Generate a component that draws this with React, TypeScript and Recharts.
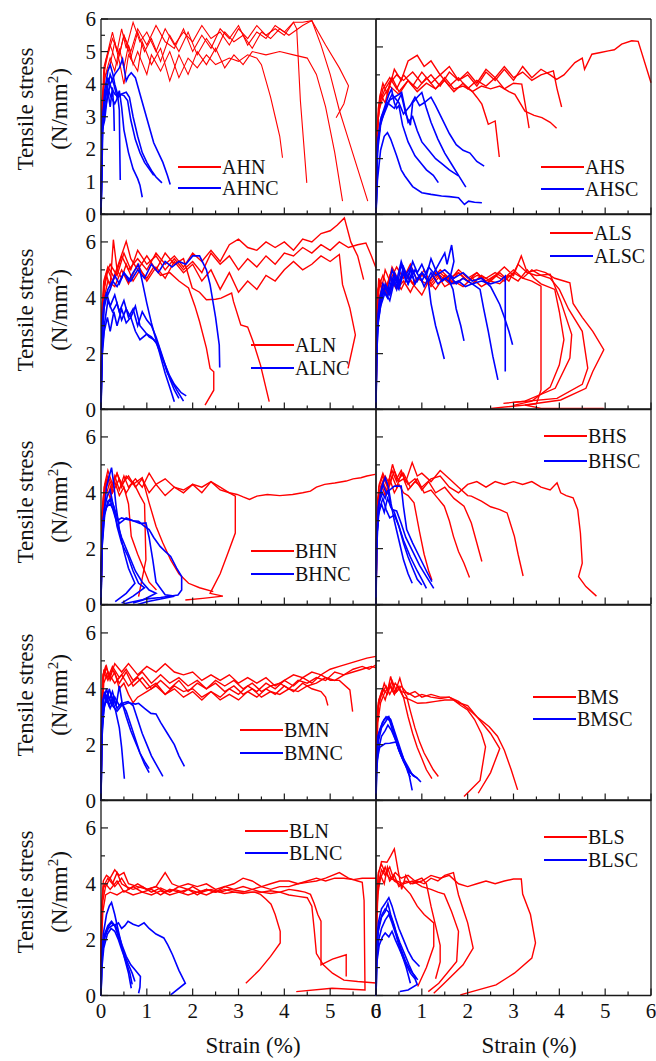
import React from 'react';
import { LineChart, Line, XAxis, YAxis } from 'recharts';

type P = [number, number];

// ---- row 1: AH ----
const AHN_1: P[] = [[0,0],[0.02,2.5],[0.05,3.8],[0.1,4.3],[0.2,4.8],[0.3,4.4],[0.4,5.1],[0.5,4.5],[0.6,5.2],[0.7,4.6],[0.8,5.0],[1.0,4.3],[1.1,4.9],[1.3,4.4],[1.5,5.0],[1.7,4.2],[1.9,4.8],[2.1,4.5],[2.3,4.9],[2.5,4.6],[2.8,4.8],[3.0,4.7],[3.2,4.9],[3.4,4.8],[3.5,4.6],[3.6,4.1],[3.7,3.6],[3.8,3.0],[3.9,2.4],[3.96,1.74]];
const AHN_2: P[] = [[0,0],[0.02,3],[0.06,4.5],[0.15,5.0],[0.25,5.6],[0.35,5.0],[0.45,5.7],[0.55,5.1],[0.7,5.9],[0.85,5.3],[1.0,5.6],[1.2,5.0],[1.4,5.7],[1.6,5.2],[1.8,5.6],[2.0,5.3],[2.2,5.8],[2.4,5.4],[2.6,5.6],[2.8,5.2],[3.0,5.7],[3.2,5.4],[3.4,5.8],[3.6,5.5],[3.8,5.7],[4.0,5.5],[4.2,5.9],[4.27,5.7],[4.35,3.5],[4.49,0.97]];
const AHN_3: P[] = [[0,0],[0.03,3.2],[0.08,4.2],[0.2,4.6],[0.3,5.3],[0.4,4.7],[0.5,4.0],[0.6,4.9],[0.8,4.4],[0.9,5.3],[1.1,4.6],[1.3,5.1],[1.5,4.1],[1.7,4.9],[1.9,4.3],[2.1,5.0],[2.3,4.6],[2.5,5.1],[2.7,4.5],[2.9,4.9],[3.1,4.6],[3.3,5.0],[3.6,4.9],[3.9,5.0],[4.2,4.9],[4.5,4.8],[4.7,4.3],[4.9,3.3],[5.1,1.9],[5.27,0.41]];
const AHN_4: P[] = [[0,0],[0.02,2.8],[0.07,4.4],[0.15,4.9],[0.25,5.4],[0.4,4.9],[0.5,5.5],[0.65,4.8],[0.8,5.6],[0.95,5.0],[1.1,5.4],[1.3,4.7],[1.5,5.5],[1.7,5.0],[1.9,5.6],[2.1,4.9],[2.3,5.4],[2.5,5.0],[2.7,5.6],[2.9,5.3],[3.1,5.5],[3.3,5.1],[3.5,5.6],[3.7,5.4],[3.9,5.7],[4.1,5.5],[4.4,5.8],[4.6,5.95],[4.8,5.2],[5.0,4.3],[5.2,3.2],[5.4,2.3],[5.6,1.4],[5.82,0.41]];
const AHN_5: P[] = [[0,0],[0.02,3.5],[0.1,4.7],[0.2,5.2],[0.35,4.6],[0.5,5.5],[0.65,5.0],[0.8,5.7],[1.0,5.2],[1.2,5.8],[1.4,5.3],[1.6,5.1],[1.8,5.7],[2.0,5.0],[2.2,5.5],[2.4,5.1],[2.6,5.7],[2.8,5.4],[3.0,5.8],[3.2,5.2],[3.4,5.6],[3.6,5.4],[3.8,5.8],[4.0,5.6],[4.2,5.9],[4.4,5.9],[4.6,5.95],[4.9,5.2],[5.2,4.5],[5.4,3.95],[5.3,3.4],[5.13,2.97]];
const AHNC_1: P[] = [[0,0],[0.03,2.7],[0.08,3.8],[0.15,4.4],[0.2,4.6],[0.26,4.3],[0.3,4.0],[0.36,3.7],[0.4,3.2],[0.41,2.0],[0.42,1.06]];
const AHNC_2: P[] = [[0,0],[0.03,2.5],[0.1,3.6],[0.2,4.3],[0.28,4.0],[0.35,3.6],[0.4,3.8],[0.45,3.3],[0.5,2.6],[0.6,1.9],[0.7,1.4],[0.8,1.1],[0.85,0.9],[0.9,0.53]];
const AHNC_3: P[] = [[0,0],[0.04,2.7],[0.1,3.3],[0.2,4.0],[0.3,4.3],[0.4,4.5],[0.47,4.77],[0.55,4.1],[0.6,4.25],[0.66,4.35],[0.75,4.2],[0.85,3.7],[0.95,3.2],[1.05,2.7],[1.15,2.2],[1.25,1.9],[1.35,1.6],[1.45,1.2],[1.51,0.92]];
const AHNC_4: P[] = [[0,0],[0.03,2.9],[0.08,3.6],[0.15,4.2],[0.22,3.9],[0.3,3.7],[0.38,3.6],[0.45,3.7],[0.55,3.75],[0.62,3.6],[0.7,3.0],[0.8,2.4],[0.9,1.9],[1.0,1.6],[1.1,1.35],[1.2,1.15],[1.33,0.97]];
const AHNC_5: P[] = [[0,0],[0.02,2.6],[0.07,3.4],[0.14,3.9],[0.22,3.6],[0.3,3.4],[0.4,3.7],[0.5,3.65],[0.58,3.5],[0.65,2.9],[0.75,2.3],[0.85,1.9],[0.95,1.6],[1.05,1.4],[1.15,1.2]];
const AHNC_6: P[] = [[0,0],[0.03,2.6],[0.08,2.9],[0.15,3.8],[0.2,3.3],[0.25,3.9],[0.28,3.2],[0.29,2.56]];

const AHS_1: P[] = [[0,0],[0.02,2.5],[0.05,3.8],[0.1,4.3],[0.2,4.0],[0.3,4.7],[0.45,5.0],[0.6,4.8],[0.8,5.1],[1.0,4.7],[1.2,5.0],[1.4,4.6],[1.6,5.1],[1.8,4.8],[2.0,5.0],[2.2,4.6],[2.4,5.1],[2.6,4.8],[2.8,5.2],[3.0,4.8],[3.2,5.3],[3.4,4.9],[3.6,5.2],[3.8,5.0],[3.94,4.84],[4.1,5.0],[4.34,5.44],[4.5,5.6],[4.55,5.2],[4.71,5.74],[4.9,5.8],[5.07,5.86],[5.2,5.9],[5.36,6.1],[5.58,6.22],[5.72,6.2],[6.0,4.72]];
const AHS_2: P[] = [[0,0],[0.03,3.0],[0.08,4.2],[0.15,4.7],[0.25,4.3],[0.4,5.2],[0.55,4.8],[0.7,5.5],[0.9,5.7],[1.05,5.3],[1.2,5.5],[1.4,5.0],[1.6,5.3],[1.8,4.8],[2.0,5.1],[2.2,4.7],[2.4,5.2],[2.6,4.9],[2.8,5.3],[3.0,4.9],[3.2,5.1],[3.4,4.8],[3.6,5.0],[3.87,5.14],[3.95,4.5],[4.05,3.85]];
const AHS_3: P[] = [[0,0],[0.02,2.8],[0.07,3.9],[0.15,4.5],[0.3,4.9],[0.45,4.5],[0.6,5.0],[0.8,4.6],[1.0,5.1],[1.2,4.7],[1.4,5.0],[1.6,4.6],[1.8,4.9],[2.0,4.5],[2.2,4.8],[2.4,4.6],[2.6,4.9],[2.8,4.5],[3.0,4.7],[3.18,4.67],[3.25,4.0],[3.3,3.5],[3.34,3.09]];
const AHS_4: P[] = [[0,0],[0.03,3.2],[0.1,4.1],[0.2,4.5],[0.35,4.9],[0.5,4.4],[0.7,4.8],[0.9,4.5],[1.1,4.9],[1.3,4.5],[1.5,4.8],[1.7,4.4],[1.9,4.7],[2.1,4.4],[2.3,4.6],[2.5,4.5],[2.7,4.6],[2.9,4.4],[3.03,4.3],[3.25,3.7],[3.45,3.55],[3.62,3.47],[3.8,3.3],[3.94,3.09]];
const AHS_5: P[] = [[0,0],[0.02,2.6],[0.06,3.7],[0.15,4.2],[0.3,4.6],[0.5,4.3],[0.7,4.8],[0.9,4.4],[1.1,4.7],[1.3,4.5],[1.5,4.9],[1.7,4.5],[1.9,4.6],[2.09,4.43],[2.2,4.2],[2.31,3.95],[2.45,3.23],[2.6,3.35],[2.69,2.06]];
const AHSC_1: P[] = [[0,0],[0.03,1.2],[0.1,2.3],[0.18,2.8],[0.25,2.93],[0.32,2.7],[0.45,2.1],[0.55,1.6],[0.63,1.38],[0.8,1.0],[1.0,0.78],[1.2,0.72],[1.43,0.66],[1.6,0.64],[1.8,0.6],[1.93,0.36],[2.02,0.48],[2.15,0.44],[2.31,0.42]];
const AHSC_2: P[] = [[0,0],[0.03,2.5],[0.1,3.4],[0.2,3.9],[0.28,4.3],[0.34,4.49],[0.4,4.0],[0.45,3.8],[0.5,3.9],[0.58,3.2],[0.7,2.6],[0.85,2.1],[1.0,1.8],[1.1,1.6],[1.25,1.4],[1.36,1.14]];
const AHSC_3: P[] = [[0,0],[0.03,2.4],[0.1,3.3],[0.2,3.7],[0.3,4.1],[0.4,4.2],[0.5,4.3],[0.56,4.37],[0.62,3.9],[0.7,3.3],[0.8,3.5],[0.9,3.0],[1.0,2.6],[1.15,2.3],[1.3,2.0],[1.45,1.8],[1.6,1.6],[1.8,1.38]];
const AHSC_4: P[] = [[0,0],[0.04,2.6],[0.12,3.5],[0.25,4.0],[0.4,3.8],[0.55,4.3],[0.65,3.6],[0.75,3.2],[0.8,4.0],[0.9,4.2],[1.0,4.37],[1.1,3.8],[1.2,3.3],[1.35,2.7],[1.5,2.2],[1.65,1.8],[1.8,1.4],[1.96,0.98]];
const AHSC_5: P[] = [[0,0],[0.03,2.2],[0.1,3.2],[0.2,3.8],[0.35,4.3],[0.5,4.0],[0.6,3.6],[0.75,3.9],[0.85,4.2],[0.95,3.9],[1.05,4.0],[1.2,4.2],[1.3,3.9],[1.45,3.4],[1.6,2.9],[1.75,2.5],[1.9,2.3],[2.05,2.2],[2.2,1.9],[2.36,1.73]];

// ---- row 2: AL ----
const ALN_1: P[] = [[0,0],[0.02,3.0],[0.06,4.3],[0.12,4.8],[0.2,4.4],[0.27,6.08],[0.35,5.0],[0.45,4.7],[0.55,5.2],[0.7,4.6],[0.85,5.0],[1.0,4.7],[1.15,5.1],[1.3,4.8],[1.5,4.9],[1.7,4.6],[1.91,4.35],[2.05,3.7],[2.15,3.15],[2.3,2.2],[2.38,1.47],[2.46,1.35],[2.46,0.69],[2.27,0.16]];
const ALN_2: P[] = [[0,0],[0.02,3.4],[0.08,4.4],[0.15,5.0],[0.25,4.6],[0.4,5.3],[0.55,6.02],[0.65,5.4],[0.8,5.0],[1.0,5.5],[1.2,5.0],[1.4,5.6],[1.6,5.2],[1.8,5.4],[1.99,4.35],[2.15,4.2],[2.3,3.93],[2.5,3.95],[2.62,3.99],[2.85,4.17],[2.89,3.87],[3.05,3.03],[3.2,2.95],[3.32,2.43],[3.48,1.59],[3.67,0.28]];
const ALN_3: P[] = [[0,0],[0.02,2.8],[0.07,4.0],[0.15,4.6],[0.3,4.4],[0.45,5.0],[0.6,4.5],[0.8,5.2],[1.0,4.6],[1.2,5.1],[1.4,4.7],[1.6,5.3],[1.8,4.9],[2.0,5.2],[2.2,4.6],[2.4,5.0],[2.6,4.3],[2.8,4.9],[3.0,4.2],[3.2,4.6],[3.4,4.3],[3.6,4.8],[3.8,4.6],[4.0,5.0],[4.2,5.3],[4.4,5.0],[4.6,5.2],[4.8,5.5],[5.0,5.3],[5.2,5.55],[5.27,4.47],[5.43,3.63],[5.55,2.67],[5.39,1.47]];
const ALN_4: P[] = [[0,0],[0.02,3.5],[0.06,4.6],[0.15,5.1],[0.3,4.7],[0.45,5.5],[0.6,5.0],[0.8,5.4],[1.0,5.0],[1.2,5.6],[1.4,5.2],[1.6,5.5],[1.8,5.1],[2.0,5.6],[2.2,5.3],[2.4,5.7],[2.6,5.3],[2.8,5.9],[3.0,6.1],[3.2,5.8],[3.4,5.7],[3.6,6.0],[3.8,5.8],[4.0,6.0],[4.2,5.7],[4.4,6.1],[4.6,6.0],[4.8,6.3],[5.0,6.4],[5.15,6.6],[5.31,6.86],[5.45,6.0],[5.6,5.5],[5.73,4.65]];
const ALN_5: P[] = [[0,0],[0.03,3.8],[0.1,4.8],[0.2,5.2],[0.35,4.8],[0.5,5.6],[0.65,5.0],[0.8,5.7],[1.0,5.2],[1.2,5.5],[1.4,5.0],[1.6,5.4],[1.8,5.0],[2.0,5.3],[2.2,4.9],[2.4,5.6],[2.6,5.2],[2.8,5.5],[3.0,5.0],[3.2,5.4],[3.4,5.1],[3.6,5.5],[3.8,5.2],[4.0,5.6],[4.2,5.5],[4.4,5.8],[4.6,5.6],[4.8,5.9],[5.0,5.7],[5.2,6.0],[5.4,5.8],[5.6,5.9],[5.78,5.96],[5.9,5.5],[6.0,5.07]];
const ALNC_1: P[] = [[0,0],[0.02,2.5],[0.08,3.9],[0.15,4.3],[0.25,4.6],[0.35,4.4],[0.5,4.9],[0.65,4.6],[0.8,5.0],[0.95,4.7],[1.1,5.2],[1.25,4.9],[1.4,5.3],[1.55,5.1],[1.7,5.3],[1.85,5.2],[2.0,5.5],[2.15,5.5],[2.3,5.0],[2.38,4.47],[2.5,3.3],[2.58,2.31],[2.59,1.5]];
const ALNC_2: P[] = [[0,0],[0.02,2.2],[0.06,3.6],[0.12,4.0],[0.2,4.3],[0.3,4.8],[0.4,4.5],[0.5,4.9],[0.6,4.6],[0.7,4.9],[0.82,5.19],[0.9,4.59],[1.0,3.8],[1.1,3.1],[1.2,2.5],[1.3,1.9],[1.4,1.3],[1.5,0.8],[1.6,0.28]];
const ALNC_3: P[] = [[0,0],[0.03,2.2],[0.08,3.1],[0.15,3.9],[0.25,3.5],[0.35,3.8],[0.45,3.2],[0.55,3.6],[0.65,3.3],[0.75,3.7],[0.85,3.0],[0.95,2.8],[1.05,2.6],[1.15,2.5],[1.25,2.3],[1.35,1.8],[1.45,1.3],[1.55,1.0],[1.65,0.7],[1.8,0.3]];
const ALNC_4: P[] = [[0,0],[0.02,1.8],[0.07,2.8],[0.14,3.3],[0.2,2.8],[0.28,3.5],[0.35,3.0],[0.45,3.6],[0.55,3.1],[0.65,3.3],[0.75,2.8],[0.85,2.5],[1.0,2.7],[1.1,2.6],[1.2,2.4],[1.3,2.0],[1.4,1.6],[1.5,1.2],[1.6,0.9],[1.75,0.6],[1.86,0.49]];
const ALNC_5: P[] = [[0,0],[0.02,2.9],[0.06,3.8],[0.12,4.2],[0.2,3.7],[0.3,4.1],[0.4,3.5],[0.5,3.9],[0.6,3.3],[0.7,3.6],[0.8,3.0],[0.9,3.5],[1.0,3.2],[1.1,3.0],[1.2,2.6],[1.3,2.1],[1.4,1.6],[1.5,1.1],[1.6,0.7],[1.7,0.4]];

const ALS_1: P[] = [[0,0],[0.01,3.0],[0.04,4.3],[0.1,4.6],[0.2,4.2],[0.3,4.8],[0.45,4.4],[0.6,4.9],[0.8,4.5],[1.0,4.8],[1.2,4.6],[1.4,5.0],[1.6,4.7],[1.8,4.9],[2.0,4.6],[2.2,4.8],[2.4,4.7],[2.6,4.9],[2.8,4.7],[3.0,5.0],[3.2,4.7],[3.4,4.6],[3.6,4.42],[3.6,0.7],[3.5,0.2],[2.51,0.04]];
const ALS_2: P[] = [[0,0],[0.02,3.5],[0.06,4.7],[0.12,4.3],[0.2,5.0],[0.3,4.6],[0.45,5.1],[0.6,4.7],[0.75,5.2],[0.9,4.6],[1.05,5.0],[1.2,4.5],[1.4,4.9],[1.6,4.6],[1.8,5.0],[2.0,4.7],[2.2,4.9],[2.4,4.6],[2.6,4.8],[2.8,5.1],[3.0,4.8],[3.17,5.5],[3.3,4.9],[3.5,4.8],[3.8,4.84],[4.03,3.88],[4.27,2.68],[4.23,1.84],[3.91,0.76],[3.25,0.3],[2.78,0.22]];
const ALS_3: P[] = [[0,0],[0.02,2.8],[0.07,4.0],[0.15,4.5],[0.25,4.1],[0.4,4.7],[0.55,4.3],[0.7,4.8],[0.85,4.4],[1.0,4.1],[1.15,4.6],[1.3,4.3],[1.5,4.8],[1.7,4.5],[1.9,4.7],[2.1,4.5],[2.3,4.8],[2.5,4.6],[2.7,4.9],[2.9,4.6],[3.1,5.2],[3.3,4.9],[3.5,5.0],[3.7,4.9],[3.9,4.7],[4.1,4.6],[4.23,4.54],[4.3,3.8],[4.5,3.3],[4.73,2.8],[4.97,2.14],[4.73,1.36],[4.58,0.76],[4.03,0.34],[3.25,0.16],[3.6,0.04],[4.97,0.04]];
const ALS_4: P[] = [[0,0],[0.02,3.2],[0.06,4.4],[0.15,4.8],[0.25,4.4],[0.35,5.1],[0.5,4.6],[0.65,4.9],[0.8,4.5],[1.0,4.9],[1.2,4.4],[1.4,4.8],[1.6,4.5],[1.8,4.9],[2.0,4.6],[2.2,4.9],[2.4,4.5],[2.6,4.8],[2.8,4.6],[3.0,4.9],[3.2,4.7],[3.4,5.0],[3.6,4.8],[3.8,4.7],[4.0,4.3],[4.2,3.6],[4.5,2.8],[4.62,1.48],[4.5,0.9],[3.95,0.4],[2.98,0.25]];
const ALS_5: P[] = [[0,0],[0.03,3.8],[0.08,4.5],[0.18,4.2],[0.3,4.7],[0.45,4.3],[0.6,4.6],[0.75,4.2],[0.9,4.7],[1.1,4.5],[1.3,4.9],[1.5,4.4],[1.7,4.6],[1.9,4.4],[2.1,4.7],[2.3,4.4],[2.5,4.6],[2.7,4.5],[2.9,4.8],[3.1,4.6],[3.3,5.0],[3.45,4.7],[3.6,4.5],[3.9,4.3],[4.0,3.5],[4.1,2.5],[4.0,1.6],[3.8,0.8],[3.4,0.3],[3.0,0.15]];
const ALSC_1: P[] = [[0,0],[0.01,1.5],[0.04,3.0],[0.1,3.7],[0.2,4.2],[0.3,3.9],[0.4,4.6],[0.5,4.3],[0.6,4.9],[0.7,4.5],[0.8,5.0],[0.9,4.6],[1.0,4.9],[1.14,4.6],[1.2,3.8],[1.3,3.0],[1.4,2.4],[1.49,1.81]];
const ALSC_2: P[] = [[0,0],[0.01,2.0],[0.05,3.4],[0.12,4.0],[0.2,4.5],[0.3,4.2],[0.4,4.9],[0.5,4.5],[0.6,5.1],[0.7,4.7],[0.8,5.3],[0.9,4.9],[1.0,5.2],[1.1,4.8],[1.2,5.4],[1.3,5.0],[1.4,5.3],[1.5,5.6],[1.55,5.2],[1.65,5.89],[1.7,5.3],[1.6,4.6],[1.68,4.3],[1.75,3.6],[1.85,3.0],[1.92,2.46]];
const ALSC_3: P[] = [[0,0],[0.02,2.5],[0.06,3.6],[0.14,4.3],[0.25,4.0],[0.35,4.7],[0.45,4.3],[0.55,5.2],[0.65,4.6],[0.75,5.0],[0.85,4.5],[0.95,4.8],[1.05,4.4],[1.2,4.9],[1.35,4.5],[1.5,4.7],[1.65,4.5],[1.8,4.6],[1.95,4.4],[2.1,4.5],[2.27,4.3],[2.35,3.6],[2.45,2.8],[2.55,1.9],[2.66,1.06]];
const ALSC_4: P[] = [[0,0],[0.02,2.8],[0.07,3.9],[0.15,4.5],[0.25,4.2],[0.35,5.0],[0.45,4.6],[0.55,5.3],[0.65,4.8],[0.75,5.1],[0.85,4.5],[1.0,4.9],[1.15,4.6],[1.3,5.0],[1.45,4.6],[1.6,4.8],[1.75,4.5],[1.9,4.7],[2.1,4.5],[2.3,4.6],[2.5,4.5],[2.7,4.6],[2.82,4.78],[2.82,1.36]];
const ALSC_5: P[] = [[0,0],[0.01,1.8],[0.05,3.2],[0.12,3.9],[0.2,4.4],[0.3,4.1],[0.4,4.7],[0.5,4.4],[0.6,4.9],[0.7,4.5],[0.85,5.0],[1.0,4.6],[1.15,5.1],[1.3,4.8],[1.5,5.0],[1.7,4.7],[1.9,4.9],[2.1,4.6],[2.3,4.7],[2.5,4.4],[2.7,3.76],[2.8,3.3],[2.9,2.8],[2.98,2.32]];

// ---- row 3: BH ----
const BHN_1: P[] = [[0,0],[0.02,2.4],[0.06,3.8],[0.12,4.5],[0.2,4.0],[0.3,4.6],[0.4,4.1],[0.5,4.6],[0.6,4.2],[0.75,4.5],[0.9,4.2],[1.05,4.7],[1.2,4.3],[1.4,4.5],[1.6,4.2],[1.8,4.0],[2.0,4.3],[2.2,4.2],[2.4,4.4],[2.6,4.1],[2.8,4.0],[2.97,3.94],[3.1,3.85],[3.24,3.76],[3.4,3.88],[3.63,3.94],[3.9,3.9],[4.18,3.94],[4.4,4.0],[4.57,4.06],[4.7,4.2],[4.88,4.3],[5.1,4.35],[5.35,4.42],[5.5,4.5],[5.67,4.54],[5.8,4.6],[5.98,4.66]];
const BHN_2: P[] = [[0,0],[0.02,3.0],[0.07,4.2],[0.15,4.6],[0.25,4.2],[0.35,4.7],[0.45,4.3],[0.6,4.6],[0.75,4.2],[0.9,4.5],[1.05,4.0],[1.2,4.3],[1.4,3.9],[1.6,4.2],[1.8,4.1],[2.0,4.3],[2.2,4.0],[2.4,4.4],[2.6,4.2],[2.8,4.0],[2.93,3.88],[2.93,2.56],[2.77,1.84],[2.6,1.1],[2.38,0.4],[2.66,0.3],[2.22,0.22],[1.84,0.16]];
const BHN_3: P[] = [[0,0],[0.02,3.3],[0.08,4.3],[0.15,4.8],[0.25,4.3],[0.35,4.7],[0.45,4.2],[0.55,4.6],[0.7,4.3],[0.9,4.54],[1.05,3.64],[1.2,2.8],[1.35,2.2],[1.52,1.6],[1.7,1.1],[1.91,0.76],[2.15,0.6],[2.45,0.46]];
const BHN_4: P[] = [[0,0],[0.02,2.8],[0.06,4.0],[0.15,4.5],[0.25,4.0],[0.4,4.5],[0.55,4.0],[0.7,4.4],[0.85,3.9],[0.95,3.6],[0.98,1.6],[0.82,0.28]];
const BHN_5: P[] = [[0,0],[0.02,2.0],[0.06,3.5],[0.12,4.2],[0.2,3.8],[0.3,4.4],[0.4,3.9],[0.5,4.2],[0.6,3.6],[0.66,2.44],[0.8,1.8],[0.95,1.2],[1.05,0.8],[1.21,0.52]];
const BHNC_1: P[] = [[0,0],[0.01,1.5],[0.05,3.0],[0.12,4.2],[0.18,4.6],[0.23,4.9],[0.28,4.3],[0.33,3.5],[0.4,2.7],[0.5,1.9],[0.6,1.3],[0.74,0.76],[0.55,0.4],[0.31,0.1]];
const BHNC_2: P[] = [[0,0],[0.02,2.0],[0.08,3.2],[0.15,3.7],[0.22,3.8],[0.28,3.5],[0.35,2.8],[0.45,2.2],[0.59,1.72],[0.7,1.2],[0.82,0.76],[0.95,0.6],[0.7,0.3],[0.45,0.05]];
const BHNC_3: P[] = [[0,0],[0.02,2.2],[0.08,3.3],[0.15,3.6],[0.2,3.76],[0.26,3.4],[0.35,2.9],[0.45,2.4],[0.6,1.8],[0.75,1.2],[0.9,0.8],[1.05,0.52],[1.2,0.4],[0.9,0.15],[0.7,0.05]];
const BHNC_4: P[] = [[0,0],[0.02,2.4],[0.07,3.4],[0.14,3.9],[0.2,4.1],[0.26,3.6],[0.32,3.3],[0.4,2.9],[0.48,3.0],[0.55,3.1],[0.7,3.0],[0.82,2.98],[0.95,2.8],[1.05,2.68],[1.15,2.4],[1.29,2.08],[1.4,1.9],[1.52,1.72],[1.65,1.3],[1.76,1.0],[1.76,0.52],[1.68,0.34],[1.3,0.25],[1.0,0.2],[0.7,0.1],[0.5,0.03]];
const BHNC_5: P[] = [[0,0],[0.02,2.3],[0.06,3.2],[0.12,3.5],[0.2,3.6],[0.27,3.4],[0.35,3.0],[0.45,3.1],[0.55,3.05],[0.7,3.0],[0.85,2.9],[0.98,2.92],[1.05,2.4],[1.13,1.6],[1.2,0.8],[1.4,0.35],[1.6,0.3],[1.3,0.2],[1.0,0.1],[0.8,0]];

const BHS_1: P[] = [[0,0],[0.01,2.5],[0.04,3.8],[0.1,4.2],[0.2,4.6],[0.3,4.3],[0.4,4.8],[0.5,4.4],[0.6,4.5],[0.7,4.1],[0.85,4.4],[1.0,4.2],[1.2,4.5],[1.4,4.6],[1.6,4.2],[1.8,4.0],[2.0,4.3],[2.2,4.4],[2.4,4.2],[2.6,4.4],[2.8,4.3],[3.0,4.4],[3.2,4.3],[3.4,4.4],[3.6,4.2],[3.8,4.1],[3.95,4.36],[4.03,4.0],[4.15,3.9],[4.3,3.82],[4.4,3.4],[4.46,2.56],[4.5,1.48],[4.42,1.0],[4.58,0.64],[4.81,0.3]];
const BHS_2: P[] = [[0,0],[0.02,3.0],[0.06,4.2],[0.15,4.6],[0.25,4.2],[0.36,5.02],[0.45,4.5],[0.55,4.8],[0.65,4.4],[0.79,5.08],[0.9,4.6],[1.0,4.7],[1.2,4.4],[1.4,4.8],[1.6,4.5],[1.8,4.2],[2.0,3.9],[2.08,3.88],[2.3,3.7],[2.5,3.5],[2.7,3.4],[2.86,3.28],[3.02,2.44],[3.1,1.8],[3.21,1.02]];
const BHS_3: P[] = [[0,0],[0.02,2.7],[0.06,3.9],[0.15,4.4],[0.25,4.0],[0.35,4.6],[0.45,4.2],[0.55,4.7],[0.7,4.3],[0.85,4.5],[1.0,4.1],[1.15,4.4],[1.3,4.0],[1.5,4.2],[1.7,3.8],[1.92,3.52],[2.08,2.92],[2.2,2.2],[2.31,1.54]];
const BHS_4: P[] = [[0,0],[0.02,3.2],[0.07,4.3],[0.15,4.7],[0.25,4.3],[0.35,4.8],[0.45,4.4],[0.6,4.7],[0.75,4.2],[0.9,4.5],[1.05,4.0],[1.2,4.1],[1.35,3.8],[1.49,3.52],[1.6,3.0],[1.69,2.44],[1.8,1.9],[1.92,1.48],[2.04,0.97]];
const BHS_5: P[] = [[0,0],[0.02,2.5],[0.06,3.7],[0.12,4.3],[0.2,3.9],[0.3,4.5],[0.4,4.0],[0.5,4.3],[0.6,4.0],[0.7,3.9],[0.83,3.64],[0.95,2.6],[1.05,1.8],[1.15,1.2],[1.22,0.88]];
const BHSC_1: P[] = [[0,0],[0.01,2.0],[0.05,3.5],[0.12,4.2],[0.2,4.54],[0.27,4.2],[0.33,3.6],[0.4,3.0],[0.5,2.3],[0.6,1.6],[0.7,1.1],[0.79,0.76]];
const BHSC_2: P[] = [[0,0],[0.01,2.3],[0.06,3.6],[0.14,4.0],[0.2,3.8],[0.26,4.1],[0.32,3.5],[0.4,3.3],[0.5,2.8],[0.6,2.3],[0.75,1.7],[0.9,1.2],[1.0,0.9],[1.1,0.58]];
const BHSC_3: P[] = [[0,0],[0.01,1.8],[0.05,3.2],[0.12,3.6],[0.18,3.3],[0.25,3.8],[0.35,3.4],[0.45,3.35],[0.55,2.9],[0.65,2.4],[0.8,1.9],[0.95,1.4],[1.1,1.0],[1.26,0.58]];
const BHSC_4: P[] = [[0,0],[0.01,2.2],[0.07,3.7],[0.15,4.3],[0.22,4.0],[0.3,4.1],[0.4,4.24],[0.55,4.24],[0.6,3.5],[0.67,2.68],[0.8,2.2],[0.95,1.7],[1.1,1.2],[1.22,0.82]];
const BHSC_5: P[] = [[0,0],[0.02,2.5],[0.07,3.4],[0.15,3.8],[0.22,3.4],[0.3,3.1],[0.4,3.2],[0.5,2.8],[0.6,2.2],[0.7,1.7],[0.8,1.3],[0.9,0.9],[1.0,0.7]];

// ---- row 4: BM ----
const BMN_1: P[] = [[0,0],[0.01,3.0],[0.04,4.5],[0.1,4.8],[0.2,4.4],[0.3,4.9],[0.45,4.6],[0.6,4.9],[0.8,4.5],[1.0,4.8],[1.2,4.6],[1.4,4.9],[1.6,4.6],[1.8,4.5],[2.0,4.6],[2.2,4.3],[2.4,4.5],[2.6,4.3],[2.8,4.5],[3.0,4.2],[3.2,4.4],[3.4,4.2],[3.6,4.4],[3.8,4.1],[4.0,4.3],[4.2,4.5],[4.4,4.4],[4.6,4.6],[4.8,4.5],[5.0,4.7],[5.2,4.8],[5.4,4.9],[5.6,5.0],[5.8,5.1],[6.0,5.16]];
const BMN_2: P[] = [[0,0],[0.02,3.5],[0.06,4.6],[0.15,4.3],[0.25,4.7],[0.4,4.2],[0.55,4.6],[0.7,4.1],[0.9,4.4],[1.1,4.0],[1.3,4.3],[1.5,4.0],[1.7,4.3],[1.9,3.9],[2.1,4.2],[2.3,4.0],[2.5,4.3],[2.7,4.1],[2.9,4.3],[3.1,4.0],[3.3,4.2],[3.5,3.9],[3.7,4.1],[3.9,4.2],[4.1,4.0],[4.3,4.3],[4.5,4.2],[4.7,4.4],[4.9,4.3],[5.1,4.6],[5.3,4.5],[5.5,4.7],[5.7,4.8],[5.85,4.7],[6.0,4.86]];
const BMN_3: P[] = [[0,0],[0.02,3.2],[0.05,4.4],[0.12,4.8],[0.2,4.3],[0.3,4.6],[0.4,4.0],[0.5,4.2],[0.6,3.8],[0.7,3.5],[0.8,3.7],[1.0,3.9],[1.2,4.1],[1.4,3.8],[1.6,4.0],[1.8,3.7],[2.0,3.9],[2.2,3.6],[2.4,3.9],[2.6,3.7],[2.8,4.0],[3.0,3.8],[3.2,4.1],[3.4,3.9],[3.6,4.2],[3.8,4.0],[4.0,4.3],[4.2,4.1],[4.4,4.4],[4.6,4.2],[4.8,4.5],[5.0,4.3],[5.2,4.3],[5.43,3.96],[5.49,3.18]];
const BMN_4: P[] = [[0,0],[0.02,2.8],[0.06,4.2],[0.15,4.6],[0.3,4.2],[0.45,4.5],[0.6,4.1],[0.8,4.4],[1.0,4.0],[1.2,4.2],[1.4,3.8],[1.6,4.1],[1.8,3.9],[2.0,4.0],[2.2,3.7],[2.4,3.9],[2.6,3.6],[2.8,3.8],[3.0,3.6],[3.2,3.9],[3.4,3.7],[3.6,4.0],[3.8,3.8],[4.0,4.1],[4.2,3.9],[4.4,4.2],[4.6,4.0],[4.8,3.9],[4.9,3.7],[4.95,3.4]];
const BMN_5: P[] = [[0,0],[0.02,3.6],[0.07,4.7],[0.15,4.4],[0.25,4.8],[0.4,4.4],[0.55,4.7],[0.7,4.3],[0.9,4.6],[1.1,4.2],[1.3,4.5],[1.5,4.2],[1.7,4.4],[1.9,4.1],[2.1,4.3],[2.3,4.0],[2.5,4.2],[2.7,3.9],[2.9,4.1],[3.1,3.8],[3.3,4.0],[3.5,3.7],[3.7,3.9],[3.9,3.8],[4.1,4.0],[4.3,3.9],[4.5,4.1],[4.7,4.2],[4.9,4.4],[5.1,4.3],[5.3,4.5],[5.5,4.6],[5.7,4.7],[5.9,4.8],[6.0,4.75]];
const BMNC_1: P[] = [[0,0],[0.01,2.5],[0.04,3.6],[0.08,3.9],[0.12,3.5],[0.18,4.0],[0.25,3.6],[0.32,3.2],[0.4,2.6],[0.45,1.9],[0.51,0.78]];
const BMNC_2: P[] = [[0,0],[0.02,2.8],[0.06,3.6],[0.12,4.0],[0.18,3.6],[0.25,3.9],[0.33,3.4],[0.4,4.1],[0.46,3.5],[0.55,3.0],[0.65,2.5],[0.75,2.1],[0.85,1.7],[0.95,1.4],[1.05,1.14]];
const BMNC_3: P[] = [[0,0],[0.02,2.4],[0.06,3.3],[0.12,3.6],[0.2,3.3],[0.3,3.7],[0.4,3.4],[0.5,3.5],[0.59,3.54],[0.7,3.4],[0.8,2.9],[0.9,2.4],[1.0,2.0],[1.1,1.6],[1.2,1.3],[1.35,0.86]];
const BMNC_4: P[] = [[0,0],[0.02,2.6],[0.07,3.4],[0.15,3.8],[0.25,3.4],[0.35,3.2],[0.45,3.4],[0.6,3.5],[0.75,3.45],[0.82,3.48],[0.95,3.3],[1.09,3.12],[1.2,3.1],[1.3,2.8],[1.45,2.4],[1.6,2.0],[1.7,1.6],[1.82,1.22]];
const BMNC_5: P[] = [[0,0],[0.02,2.2],[0.06,3.2],[0.12,3.8],[0.18,3.4],[0.26,3.7],[0.35,3.3],[0.45,3.5],[0.55,3.2],[0.65,2.7],[0.75,2.2],[0.85,1.7],[0.95,1.3],[1.05,1.0]];

const BMS_1: P[] = [[0,0],[0.01,2.0],[0.04,3.3],[0.1,3.7],[0.18,4.2],[0.25,3.9],[0.32,4.44],[0.4,3.9],[0.5,4.1],[0.6,3.7],[0.7,3.0],[0.8,2.4],[0.9,1.9],[1.0,1.5],[1.1,1.1],[1.22,0.78]];
const BMS_2: P[] = [[0,0],[0.01,2.4],[0.05,3.5],[0.12,3.9],[0.2,3.6],[0.3,4.2],[0.4,3.8],[0.52,4.38],[0.6,3.9],[0.67,3.72],[0.75,3.2],[0.85,2.6],[0.95,2.1],[1.05,1.7],[1.15,1.4],[1.25,1.1],[1.36,0.86]];
const BMS_3: P[] = [[0,0],[0.01,1.5],[0.04,2.8],[0.1,3.5],[0.2,3.9],[0.3,4.1],[0.4,3.8],[0.5,4.0],[0.6,3.7],[0.75,3.6],[0.91,3.48],[1.1,3.5],[1.3,3.55],[1.5,3.6],[1.69,3.6],[1.85,3.4],[2.0,3.24],[2.15,2.9],[2.3,2.4],[2.39,1.92],[2.27,0.72],[1.92,0.14]];
const BMS_4: P[] = [[0,0],[0.02,2.6],[0.06,3.6],[0.15,4.0],[0.25,3.8],[0.35,4.3],[0.45,3.9],[0.55,4.1],[0.7,3.8],[0.85,3.9],[1.0,3.7],[1.2,3.8],[1.4,3.7],[1.6,3.7],[1.8,3.5],[2.0,3.4],[2.15,3.1],[2.3,2.8],[2.5,2.4],[2.7,1.86],[2.5,1.0],[2.23,0.26]];
const BMS_5: P[] = [[0,0],[0.01,2.2],[0.05,3.4],[0.12,3.8],[0.22,4.1],[0.3,3.8],[0.42,4.2],[0.55,3.9],[0.7,3.85],[0.85,3.7],[1.0,3.8],[1.2,3.7],[1.4,3.65],[1.6,3.7],[1.8,3.55],[2.0,3.3],[2.2,3.0],[2.47,2.64],[2.65,2.3],[2.8,1.8],[2.95,1.1],[3.09,0.38]];
const BMSC_1: P[] = [[0,0],[0.01,1.5],[0.04,2.3],[0.1,2.6],[0.18,2.9],[0.26,3.0],[0.32,2.9],[0.4,2.5],[0.48,2.1],[0.56,1.7],[0.64,1.3],[0.7,1.0],[0.75,0.84]];
const BMSC_2: P[] = [[0,0],[0.01,1.2],[0.05,2.1],[0.12,2.6],[0.2,2.8],[0.28,3.0],[0.35,2.7],[0.42,2.3],[0.5,1.9],[0.6,1.5],[0.7,1.2],[0.8,0.9],[0.9,0.8],[0.98,0.66]];
const BMSC_3: P[] = [[0,0],[0.01,1.0],[0.05,1.8],[0.12,2.3],[0.2,2.5],[0.26,2.7],[0.34,2.5],[0.42,2.2],[0.5,1.8],[0.6,1.4],[0.7,1.1],[0.79,0.36]];
const BMSC_4: P[] = [[0,0],[0.02,1.4],[0.08,1.9],[0.2,2.04],[0.3,2.05],[0.44,2.1],[0.5,1.8],[0.58,1.5],[0.66,1.2],[0.74,1.0],[0.82,0.9],[0.9,0.8]];
const BMSC_5: P[] = [[0,0],[0.01,1.6],[0.06,2.4],[0.14,2.8],[0.22,3.0],[0.3,2.85],[0.38,2.4],[0.46,2.0],[0.55,1.6],[0.65,1.25],[0.75,1.0],[0.85,0.85]];

// ---- row 5: BL ----
const BLN_1: P[] = [[0,0],[0.01,2.5],[0.04,3.8],[0.1,4.0],[0.2,3.8],[0.35,4.1],[0.5,3.7],[0.7,3.9],[0.9,3.7],[1.1,3.8],[1.3,3.6],[1.5,3.8],[1.7,3.7],[1.9,3.8],[2.1,3.6],[2.3,3.8],[2.5,3.7],[2.7,3.9],[2.9,4.0],[3.1,4.2],[3.3,4.1],[3.5,3.9],[3.7,3.8],[3.9,3.9],[4.1,3.9],[4.3,4.0],[4.5,4.1],[4.7,4.2],[4.9,4.1],[5.1,4.2],[5.3,4.2],[5.5,4.15],[5.7,4.2],[5.85,4.2],[6.0,4.2]];
const BLN_2: P[] = [[0,0],[0.01,3.0],[0.05,4.1],[0.12,4.3],[0.2,4.2],[0.3,4.5],[0.4,4.3],[0.5,4.4],[0.6,4.0],[0.8,3.9],[1.0,3.8],[1.2,3.9],[1.4,3.7],[1.6,3.8],[1.8,3.7],[2.0,3.9],[2.2,3.7],[2.4,3.8],[2.6,3.7],[2.8,3.8],[3.0,3.75],[3.2,3.7],[3.35,3.7],[3.48,3.62],[3.6,3.45],[3.71,3.27],[3.8,2.9],[3.91,2.3],[3.91,1.88],[3.7,1.4],[3.45,0.9],[3.16,0.44]];
const BLN_3: P[] = [[0,0],[0.01,2.8],[0.05,3.9],[0.15,4.2],[0.25,4.0],[0.35,4.4],[0.45,4.0],[0.55,3.9],[0.7,3.8],[0.9,3.9],[1.1,3.7],[1.3,3.85],[1.5,3.7],[1.7,3.9],[1.9,3.8],[2.1,3.7],[2.3,3.8],[2.5,3.7],[2.7,3.8],[2.9,3.7],[3.1,3.7],[3.3,3.8],[3.5,3.7],[3.7,3.75],[3.9,3.7],[4.1,3.8],[4.3,3.75],[4.45,3.7],[4.57,3.62],[4.65,3.3],[4.73,2.9],[4.8,2.66],[4.8,1.1],[5.05,1.3],[5.35,1.46],[5.35,0.68]];
const BLN_4: P[] = [[0,0],[0.01,2.2],[0.04,3.4],[0.1,3.9],[0.2,4.2],[0.3,3.9],[0.45,4.2],[0.6,3.8],[0.8,4.0],[1.0,3.8],[1.2,3.9],[1.4,4.4],[1.55,4.0],[1.7,3.9],[1.9,4.0],[2.1,3.9],[2.3,4.0],[2.5,3.8],[2.7,3.9],[2.9,3.8],[3.1,3.9],[3.3,3.8],[3.5,3.9],[3.7,4.0],[3.9,4.1],[4.1,4.1],[4.3,4.0],[4.5,4.05],[4.7,4.1],[4.9,4.2],[5.2,4.4],[5.4,4.2],[5.6,4.1],[5.7,4.05],[5.74,3.4],[5.76,0.2],[5.04,0.26],[4.26,0.14]];
const BLN_5: P[] = [[0,0],[0.01,1.8],[0.04,3.0],[0.1,3.6],[0.2,3.7],[0.35,3.6],[0.5,3.75],[0.7,3.6],[0.9,3.7],[1.1,3.6],[1.3,3.75],[1.5,3.6],[1.7,3.7],[1.9,3.6],[2.1,3.7],[2.3,3.6],[2.5,3.75],[2.7,3.65],[2.9,3.7],[3.1,3.65],[3.3,3.7],[3.5,3.7],[3.7,3.65],[3.9,3.7],[4.1,3.6],[4.3,3.55],[4.5,3.5],[4.6,3.2],[4.65,2.4],[4.7,1.5],[4.85,1.1],[5.05,0.8],[5.3,0.55],[5.6,0.5],[6.0,0.45]];
const BLNC_1: P[] = [[0,0],[0.01,1.2],[0.05,2.2],[0.12,2.9],[0.18,3.2],[0.23,3.33],[0.3,2.9],[0.38,2.3],[0.45,1.8],[0.52,1.3],[0.6,0.8],[0.66,0.26]];
const BLNC_2: P[] = [[0,0],[0.02,1.4],[0.08,2.2],[0.15,2.5],[0.23,2.66],[0.3,2.5],[0.4,2.0],[0.5,1.5],[0.6,1.1],[0.68,0.8],[0.74,0.5]];
const BLNC_3: P[] = [[0,0],[0.02,1.6],[0.08,2.1],[0.16,2.4],[0.24,2.5],[0.31,2.54],[0.38,2.2],[0.46,1.8],[0.55,1.4],[0.65,1.1],[0.75,0.9],[0.86,0.68],[0.85,0.3],[0.82,0.08]];
const BLNC_4: P[] = [[0,0],[0.02,1.3],[0.07,2.0],[0.14,2.4],[0.22,2.6],[0.3,2.5],[0.38,2.6],[0.45,2.4],[0.52,2.5],[0.59,2.66],[0.7,2.55],[0.82,2.48],[0.94,2.6],[1.05,2.4],[1.2,2.2],[1.37,2.06],[1.46,1.8],[1.56,1.46],[1.7,0.9],[1.84,0.44],[1.52,0.02]];
const BLNC_5: P[] = [[0,0],[0.02,1.0],[0.06,1.7],[0.14,2.2],[0.22,2.4],[0.3,2.3],[0.38,2.0],[0.46,1.6],[0.55,1.2],[0.63,0.8],[0.68,0.4]];

const BLS_1: P[] = [[0,0],[0.01,2.5],[0.04,3.8],[0.1,4.2],[0.2,4.6],[0.3,4.1],[0.4,4.3],[0.5,3.9],[0.65,4.1],[0.8,4.0],[1.0,4.1],[1.2,4.3],[1.4,4.2],[1.6,4.3],[1.8,4.0],[2.0,3.9],[2.2,4.0],[2.4,4.1],[2.6,4.0],[2.8,4.1],[3.0,4.17],[3.17,4.17],[3.2,3.63],[3.37,2.9],[3.48,1.88],[3.4,1.34],[3.02,0.8],[2.62,0.38],[1.84,0.02]];
const BLS_2: P[] = [[0,0],[0.01,3.0],[0.05,4.3],[0.12,4.8],[0.24,4.77],[0.32,5.0],[0.4,5.25],[0.48,4.5],[0.56,3.8],[0.65,4.3],[0.75,4.0],[0.9,4.1],[1.05,4.0],[1.2,4.2],[1.35,4.1],[1.5,4.3],[1.69,4.4],[1.8,3.6],[1.9,3.1],[2.0,2.6],[2.12,1.7],[1.9,1.1],[1.45,0.38],[1.26,0.08]];
const BLS_3: P[] = [[0,0],[0.01,2.8],[0.05,4.0],[0.12,4.5],[0.2,4.3],[0.3,4.6],[0.4,4.1],[0.5,4.0],[0.6,3.9],[0.75,3.63],[0.9,3.2],[1.05,2.9],[1.26,2.6],[1.26,1.76],[1.1,1.0],[0.91,0.32]];
const BLS_4: P[] = [[0,0],[0.01,3.2],[0.05,4.4],[0.12,4.7],[0.2,4.4],[0.3,4.2],[0.45,4.1],[0.6,4.0],[0.8,4.1],[1.0,3.9],[1.2,3.8],[1.35,3.7],[1.49,3.63],[1.65,3.0],[1.8,2.3],[1.76,1.22],[1.37,0.44],[1.14,0.14]];
const BLS_5: P[] = [[0,0],[0.01,2.2],[0.04,3.6],[0.1,4.3],[0.18,4.0],[0.25,4.6],[0.33,4.2],[0.42,4.4],[0.55,4.2],[0.7,4.3],[0.85,4.1],[1.0,4.2],[1.1,4.0],[1.2,3.2],[1.3,2.5],[1.4,1.8],[1.4,1.2],[1.3,0.6]];
const BLSC_1: P[] = [[0,0],[0.01,1.8],[0.05,2.6],[0.12,3.1],[0.2,3.3],[0.28,3.5],[0.35,3.2],[0.42,2.8],[0.5,2.4],[0.6,2.0],[0.7,1.6],[0.8,1.3],[0.95,1.04]];
const BLSC_2: P[] = [[0,0],[0.01,1.5],[0.05,2.3],[0.12,2.8],[0.2,3.0],[0.26,3.3],[0.32,2.9],[0.4,2.5],[0.48,2.0],[0.56,1.6],[0.65,1.2],[0.75,0.9],[0.85,0.7],[0.91,0.56]];
const BLSC_3: P[] = [[0,0],[0.02,1.3],[0.06,2.0],[0.12,2.4],[0.2,2.7],[0.28,2.9],[0.35,2.6],[0.43,2.2],[0.5,1.8],[0.58,1.4],[0.66,1.0],[0.75,0.44]];
const BLSC_4: P[] = [[0,0],[0.02,1.2],[0.07,1.8],[0.14,2.1],[0.2,2.24],[0.28,2.1],[0.35,2.3],[0.42,2.0],[0.5,1.7],[0.58,1.4],[0.66,1.1],[0.75,0.8],[0.85,0.6],[0.9,0.4],[0.7,0.2],[0.52,0.14]];
const BLSC_5: P[] = [[0,0],[0.01,1.7],[0.06,2.5],[0.13,2.9],[0.2,3.1],[0.27,3.0],[0.35,2.7],[0.43,2.3],[0.52,1.9],[0.62,1.5],[0.72,1.1],[0.8,0.8],[0.88,0.6]];

const X_TICKS = [0, 0.5, 1, 1.5, 2, 2.5, 3, 3.5, 4, 4.5, 5, 5.5, 6];
const Y_TICKS_6 = [0, 0.5, 1, 1.5, 2, 2.5, 3, 3.5, 4, 4.5, 5, 5.5, 6];
const Y_TICKS_7 = [0, 1, 2, 3, 4, 5, 6, 7];

const RED = '#ff0000';
const BLUE = '#0000ff';
const FRAME = '#1a1a1a';
const SERIF = '"Liberation Serif", "Times New Roman", serif';

// layout (page pixels)
const COL_X = [101, 376];
const ROW_TOP = [18.5, 213.5, 409, 604.5, 800];
const PW = 275;
const PH = 195.5;
const AX_L = 45; // left y-axis band
const AX_B = 35; // bottom x-axis band
const PAD_T = 20; // top padding incl. mirrored axis
const PAD_R = 10; // right padding incl. mirrored axis
const TITLE_Y = [109, 310, 502, 695, 892];

type Panel = {
  row: number;
  col: number;
  yMax: number;
  red: P[][];
  blue: P[][];
  redName: string;
  blueName: string;
  redWidth: number;
  leg: { x: number; y: number; gap: number };
};

const PANELS: Panel[] = [
  { row: 0, col: 0, yMax: 6, red: [AHN_1, AHN_2, AHN_3, AHN_4, AHN_5], blue: [AHNC_1, AHNC_2, AHNC_3, AHNC_4, AHNC_5, AHNC_6], redName: 'AHN', blueName: 'AHNC', redWidth: 1.1, leg: { x: 178, y: 167, gap: 21 } },
  { row: 0, col: 1, yMax: 7, red: [AHS_1, AHS_2, AHS_3, AHS_4, AHS_5], blue: [AHSC_1, AHSC_2, AHSC_3, AHSC_4, AHSC_5], redName: 'AHS', blueName: 'AHSC', redWidth: 1.4, leg: { x: 541, y: 167, gap: 22 } },
  { row: 1, col: 0, yMax: 7, red: [ALN_1, ALN_2, ALN_3, ALN_4, ALN_5], blue: [ALNC_1, ALNC_2, ALNC_3, ALNC_4, ALNC_5], redName: 'ALN', blueName: 'ALNC', redWidth: 1.4, leg: { x: 251, y: 345, gap: 23 } },
  { row: 1, col: 1, yMax: 7, red: [ALS_1, ALS_2, ALS_3, ALS_4, ALS_5], blue: [ALSC_1, ALSC_2, ALSC_3, ALSC_4, ALSC_5], redName: 'ALS', blueName: 'ALSC', redWidth: 1.4, leg: { x: 550, y: 233, gap: 23 } },
  { row: 2, col: 0, yMax: 7, red: [BHN_1, BHN_2, BHN_3, BHN_4, BHN_5], blue: [BHNC_1, BHNC_2, BHNC_3, BHNC_4, BHNC_5], redName: 'BHN', blueName: 'BHNC', redWidth: 1.4, leg: { x: 251, y: 551, gap: 23 } },
  { row: 2, col: 1, yMax: 7, red: [BHS_1, BHS_2, BHS_3, BHS_4, BHS_5], blue: [BHSC_1, BHSC_2, BHSC_3, BHSC_4, BHSC_5], redName: 'BHS', blueName: 'BHSC', redWidth: 1.4, leg: { x: 544, y: 436, gap: 25 } },
  { row: 3, col: 0, yMax: 7, red: [BMN_1, BMN_2, BMN_3, BMN_4, BMN_5], blue: [BMNC_1, BMNC_2, BMNC_3, BMNC_4, BMNC_5], redName: 'BMN', blueName: 'BMNC', redWidth: 1.4, leg: { x: 240, y: 730, gap: 23 } },
  { row: 3, col: 1, yMax: 7, red: [BMS_1, BMS_2, BMS_3, BMS_4, BMS_5], blue: [BMSC_1, BMSC_2, BMSC_3, BMSC_4, BMSC_5], redName: 'BMS', blueName: 'BMSC', redWidth: 1.4, leg: { x: 533, y: 697, gap: 22 } },
  { row: 4, col: 0, yMax: 7, red: [BLN_1, BLN_2, BLN_3, BLN_4, BLN_5], blue: [BLNC_1, BLNC_2, BLNC_3, BLNC_4, BLNC_5], redName: 'BLN', blueName: 'BLNC', redWidth: 1.4, leg: { x: 245, y: 831, gap: 22 } },
  { row: 4, col: 1, yMax: 7, red: [BLS_1, BLS_2, BLS_3, BLS_4, BLS_5], blue: [BLSC_1, BLSC_2, BLSC_3, BLSC_4, BLSC_5], redName: 'BLS', blueName: 'BLSC', redWidth: 1.4, leg: { x: 544, y: 837, gap: 23 } },
];

const toPts = (d: P[]) => d.map(([x, y]) => ({ x, y }));

function XTick(props: any) {
  const { x, y, payload, showLabel } = props;
  const v = payload.value as number;
  const major = Number.isInteger(v);
  return (
    <g>
      <line x1={x} x2={x} y1={y} y2={y - (major ? 7 : 4)} stroke={FRAME} strokeWidth={1.2} />
      {showLabel && major && (
        <text x={x} y={y + 22} textAnchor="middle" fontSize={21} fontFamily={SERIF} fill="#111">
          {v}
        </text>
      )}
    </g>
  );
}

function YTick(props: any) {
  const { x, y, payload, showLabel, every } = props;
  const v = payload.value as number;
  const major = v % every === 0;
  return (
    <g>
      <line x1={x} x2={x + (major ? 7 : 4)} y1={y} y2={y} stroke={FRAME} strokeWidth={1.2} />
      {showLabel && major && v <= 6 && (
        <text x={x - 5} y={y + 7} textAnchor="end" fontSize={21} fontFamily={SERIF} fill="#111">
          {v}
        </text>
      )}
    </g>
  );
}

function PanelChart({ p }: { p: Panel }) {
  const yTicks = p.yMax === 6 ? Y_TICKS_6 : Y_TICKS_7;
  const every = p.yMax === 6 ? 1 : 2;
  const axisLine = { stroke: FRAME, strokeWidth: 1.3 };
  return (
    <div style={{ position: 'absolute', left: COL_X[p.col] - AX_L, top: ROW_TOP[p.row] - PAD_T }}>
      <LineChart width={PW + AX_L + PAD_R} height={PH + PAD_T + AX_B} margin={{ top: PAD_T - 1, right: PAD_R - 1, bottom: 0, left: 0 }}>
        <XAxis
          xAxisId="b"
          type="number"
          dataKey="x"
          domain={[0, 6]}
          ticks={X_TICKS}
          interval={0}
          height={AX_B}
          tickSize={0}
          tickMargin={0}
          tickLine={false}
          axisLine={axisLine}
          tick={(tp: any) => <XTick {...tp} showLabel={p.row === 4} />}
        />
        <XAxis xAxisId="t" orientation="top" type="number" dataKey="x" domain={[0, 6]} height={1} tick={false} tickLine={false} axisLine={axisLine} />
        <YAxis
          yAxisId="l"
          type="number"
          domain={[0, p.yMax]}
          ticks={yTicks}
          interval={0}
          width={AX_L}
          tickSize={0}
          tickMargin={0}
          tickLine={false}
          axisLine={axisLine}
          tick={(tp: any) => <YTick {...tp} showLabel={p.col === 0} every={every} />}
        />
        <YAxis yAxisId="r" orientation="right" type="number" domain={[0, p.yMax]} width={1} tick={false} tickLine={false} axisLine={axisLine} />
        {p.red.map((d, i) => (
          <Line key={'r' + i} xAxisId="b" yAxisId="l" data={toPts(d)} dataKey="y" name={p.redName} type="linear" stroke={RED} strokeWidth={p.redWidth} dot={false} isAnimationActive={false} />
        ))}
        {p.blue.map((d, i) => (
          <Line key={'b' + i} xAxisId="b" yAxisId="l" data={toPts(d)} dataKey="y" name={p.blueName} type="linear" stroke={BLUE} strokeWidth={1.6} dot={false} isAnimationActive={false} />
        ))}
      </LineChart>
    </div>
  );
}

function LegendBox({ p }: { p: Panel }) {
  const rows = [
    { name: p.redName, color: RED, y: p.leg.y, w: p.redWidth + 0.3 },
    { name: p.blueName, color: BLUE, y: p.leg.y + p.leg.gap, w: 1.8 },
  ];
  return (
    <>
      {rows.map((r) => (
        <div key={r.name} style={{ position: 'absolute', left: p.leg.x, top: r.y - 9, height: 18, display: 'flex', alignItems: 'center', fontFamily: SERIF, fontSize: 20, color: '#111', whiteSpace: 'nowrap' }}>
          <div style={{ width: 43, height: r.w, background: r.color, marginRight: 1 }} />
          <span style={{ lineHeight: '18px' }}>{r.name}</span>
        </div>
      ))}
    </>
  );
}

export default function App() {
  return (
    <div style={{ position: 'absolute', left: 0, top: 0, width: 656, height: 1061, background: '#fff', overflow: 'hidden' }}>
      {PANELS.map((p) => (
        <PanelChart key={p.redName} p={p} />
      ))}
      {PANELS.map((p) => (
        <LegendBox key={'l' + p.redName} p={p} />
      ))}
      {TITLE_Y.map((cy, i) => (
        <React.Fragment key={i}>
          <div style={{ position: 'absolute', left: 26, top: cy, transform: 'translate(-50%, -50%) rotate(-90deg)', fontFamily: SERIF, fontSize: 23, color: '#111', whiteSpace: 'nowrap' }}>
            Tensile stress
          </div>
          <div style={{ position: 'absolute', left: 59, top: cy, transform: 'translate(-50%, -50%) rotate(-90deg)', fontFamily: SERIF, fontSize: 23, color: '#111', whiteSpace: 'nowrap' }}>
            (N/mm<sup style={{ fontSize: 15 }}>2</sup>)
          </div>
        </React.Fragment>
      ))}
      {[253, 529].map((cx) => (
        <div key={cx} style={{ position: 'absolute', left: cx, top: 1046, transform: 'translate(-50%, -50%)', fontFamily: SERIF, fontSize: 23, color: '#111', whiteSpace: 'nowrap' }}>
          Strain (%)
        </div>
      ))}
    </div>
  );
}
